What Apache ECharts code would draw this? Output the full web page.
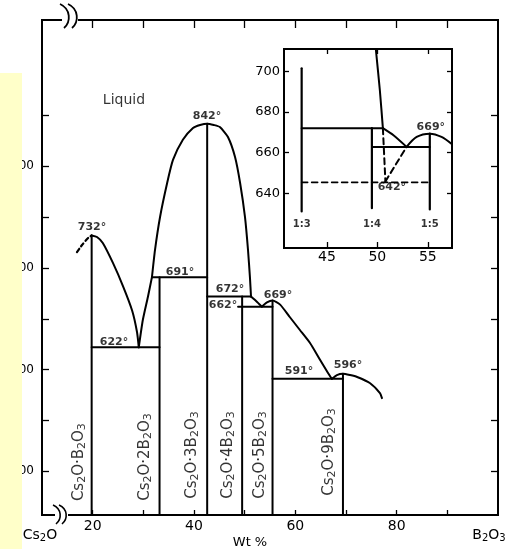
<!DOCTYPE html>
<html><head><meta charset="utf-8">
<script src="https://cdn.jsdelivr.net/npm/echarts@6/dist/echarts.min.js"></script>
<style>html,body{margin:0;padding:0;background:#fff}#c{width:514px;height:549px}</style>
</head><body><div id="c"></div>
<script>
// ---------- main diagram axes ----------
const xTicks = [20, 30, 40, 50, 60, 70, 80, 90];
const xTickLabels = [20, 40, 60, 80];
const yTicks = [500, 550, 600, 650, 700, 750, 800, 850];
const yTickLabels = [500, 600, 700, 800];

// ---------- compounds (wt% B2O3, top temperature) ----------
const compoundMult = ['', '2', '3', '4', '5', '9'];
const compoundW = [19.8, 33.2, 42.6, 49.5, 55.5, 69.4];
const compoundTop = [732, 691, 842, 672, 668, 596];
const compoundLabelW = [17.3, 30.3, 39.6, 46.7, 53.0, 66.6];
const compoundLabelT = [509, 514, 516, 516, 516, 519];

// ---------- invariant horizontals ----------
const horizT = [622, 691, 672, 662, 591];
const horizFrom = [19.8, 31.7, 42.6, 48.7, 55.5];
const horizTo = [33.2, 42.6, 51.25, 55.5, 69.4];

// ---------- liquidus curves ----------
const liqDashed = [[16.9, 715.7], [17.9, 722.6], [19.1, 729.5], [19.8, 732]];
const liq732 = [[19.8, 732], [20.85, 730.5], [22.0, 724.6], [24.0, 705], [26.0, 682], [27.8, 658], [28.75, 637], [29.1, 622]];
const liq622 = [[29.1, 622], [29.9, 648.8], [30.9, 671.5], [31.7, 691]];
const liqDome = [[31.7, 691], [32.3, 717.7], [33.3, 750.2], [34.7, 783.6], [35.85, 806.3], [37.8, 826.1], [39.8, 837.7], [41.2, 840.7], [42.6, 842],
  [43.9, 840.7], [45.1, 838.7], [46.7, 828.9], [48.1, 809.2], [49.1, 783.6], [50.06, 750.2], [50.66, 717.7], [51.05, 690], [51.25, 672]];
const liq672 = [[51.25, 672], [52.3, 667.3], [53.4, 662]];
const liq669 = [[53.4, 662], [54.4, 666.2], [55.5, 668], [57.0, 664], [58.9, 651.8], [60.9, 639], [62.9, 626.2], [64.9, 609.5], [66.45, 596.7], [67.2, 591]];
const liq596 = [[67.2, 591], [68.2, 594.7], [69.4, 596], [70.8, 594.7], [72.2, 592.8], [74.7, 586.9], [76.7, 577], [77.1, 572]];

// ---------- temperature labels ----------
const tempText = ['842°', '732°', '691°', '622°', '672°', '662°', '669°', '591°', '596°'];
const tempW = [42.56, 19.87, 37.23, 24.21, 47.1, 45.72, 56.58, 60.72, 70.39];
const tempT = [849.5, 740.3, 696.1, 627.2, 679.3, 663.6, 673.4, 598.7, 604.6];

// ---------- inset ----------
const insetXTicks = [45, 50, 55];
const insetYTicks = [640, 660, 680, 700];
const insetCompW = [42.5, 49.46, 55.2];
const insetCompTop = [701.5, 672, 669.3];
const insetCompBottom = [631, 632.6, 632];
const insetCompText = ['1:3', '1:4', '1:5'];
const insetSteep = [[49.85, 711], [50.25, 690.7], [50.55, 672]];
const insetDown = [[50.55, 672], [51.6, 668.5], [52.9, 662.8]];
const insetHump = [[52.9, 662.8], [53.9, 667.7], [55.2, 669.3], [56.36, 667.7], [57.4, 664.1]];
const insetH672 = [[42.5, 672], [50.55, 672]];
const insetH663 = [[49.46, 662.8], [55.2, 662.8]];
const insetDashV = [[50.55, 672], [50.8, 645.8]];
const insetDashD = [[50.8, 645.8], [52.9, 662.8]];
const insetDashH = [[42.5, 645.3], [55.2, 645.3]];
const insetTempText = ['669°', '642°'];
const insetTempW = [55.3, 51.44];
const insetTempT = [672.5, 643];

const FONT = 'DejaVu Sans';
const BLACK = '#000';

function line(data, opts) {
  opts = opts || {};
  return {
    type: 'line', data: data, xAxisIndex: opts.inset ? 2 : 0, yAxisIndex: opts.inset ? 2 : 0,
    showSymbol: false, symbol: 'none', smooth: opts.smooth || false, silent: true,
    lineStyle: { color: BLACK, width: opts.width || 2, type: opts.dash || 'solid', cap: 'round', join: 'round' },
    z: 3
  };
}

const series = [];
// compound verticals
compoundW.forEach((w, i) => series.push(line([[w, 457], [w, compoundTop[i]]], { width: 2 })));
// horizontals
horizT.forEach((t, i) => series.push(line([[horizFrom[i], t], [horizTo[i], t]], { width: 2 })));
// liquidus
series.push(line(liqDashed, { smooth: 0.2, dash: [4, 3], width: 2.2 }));
[liq732, liq622, liqDome, liq672, liq669, liq596].forEach(d => series.push(line(d, { smooth: 0.2, width: 2 })));

// compound labels
const richSub = {
  a: { fontFamily: FONT, fontSize: 15, color: BLACK },
  s: { fontFamily: FONT, fontSize: 11, color: BLACK, padding: [7, 0, 0, 0] }
};
series.push({
  type: 'scatter', xAxisIndex: 0, yAxisIndex: 0, silent: true, symbolSize: 0,
  itemStyle: { color: 'transparent' },
  data: compoundLabelW.map((w, i) => [w, compoundLabelT[i]]),
  label: {
    show: true, position: 'inside', rotate: 90,
    formatter: p => '{a|Cs}{s|2}{a|O·' + compoundMult[p.dataIndex] + 'B}{s|2}{a|O}{s|3}',
    rich: richSub
  }, z: 4
});
// temperature labels
series.push({
  type: 'scatter', xAxisIndex: 0, yAxisIndex: 0, silent: true, symbolSize: 0,
  itemStyle: { color: 'transparent' },
  data: tempW.map((w, i) => [w, tempT[i]]),
  label: { show: true, position: 'inside', formatter: p => tempText[p.dataIndex], fontFamily: FONT, fontSize: 11, fontWeight: 'bold', color: BLACK },
  z: 4
});
// Liquid label
series.push({
  type: 'scatter', xAxisIndex: 0, yAxisIndex: 0, silent: true, symbolSize: 0,
  itemStyle: { color: 'transparent' },
  data: [[26.18, 865.3]],
  label: { show: true, position: 'inside', formatter: 'Liquid', fontFamily: FONT, fontSize: 14, color: BLACK },
  z: 4
});

// inset series
insetCompW.forEach((w, i) => series.push(line([[w, insetCompBottom[i]], [w, insetCompTop[i]]], { inset: true, width: 2.2 })));
series.push(line(insetH672, { inset: true }));
series.push(line(insetH663, { inset: true }));
series.push(line(insetSteep, { inset: true, smooth: 0.2 }));
series.push(line(insetDown, { inset: true, smooth: 0.2 }));
series.push(line(insetHump, { inset: true, smooth: 0.3 }));
series.push(line(insetDashV, { inset: true, dash: [6, 4] }));
series.push(line(insetDashD, { inset: true, dash: [6, 4] }));
series.push(line(insetDashH, { inset: true, dash: [6, 4], width: 1.6 }));
series.push({
  type: 'scatter', xAxisIndex: 2, yAxisIndex: 2, silent: true, symbolSize: 0,
  itemStyle: { color: 'transparent' },
  data: insetTempW.map((w, i) => [w, insetTempT[i]]),
  label: { show: true, position: 'inside', formatter: p => insetTempText[p.dataIndex], fontFamily: FONT, fontSize: 11, fontWeight: 'bold', color: BLACK },
  z: 4
});
series.push({
  type: 'scatter', xAxisIndex: 2, yAxisIndex: 2, silent: true, symbolSize: 0,
  itemStyle: { color: 'transparent' },
  data: insetCompW.map(w => [w, 624.8]),
  label: { show: true, position: 'inside', formatter: p => insetCompText[p.dataIndex], fontFamily: FONT, fontSize: 10, fontWeight: 'bold', color: BLACK },
  z: 4
});

function tick(vals, len) { return { show: true, inside: true, length: len, customValues: vals, lineStyle: { color: BLACK, width: 1.3 } }; }
function noLabel() { return { show: false }; }

const option = {
  animation: false,
  backgroundColor: '#fff',
  grid: [
    { left: 42, top: 20, width: 456, height: 495, show: true, borderColor: BLACK, borderWidth: 2, backgroundColor: 'transparent' },
    { left: 284, top: 49, width: 168, height: 199, show: true, borderColor: BLACK, borderWidth: 2, backgroundColor: '#fff' }
  ],
  xAxis: [
    { gridIndex: 0, type: 'value', min: 10, max: 100, axisLine: { show: false }, splitLine: { show: false },
      axisTick: tick(xTicks, 5),
      axisLabel: { customValues: xTickLabels, fontFamily: FONT, fontSize: 14, color: BLACK, margin: 4 } },
    { gridIndex: 0, type: 'value', position: 'top', min: 10, max: 100, axisLine: { show: false }, splitLine: { show: false },
      axisTick: tick(xTicks, 8), axisLabel: noLabel() },
    { gridIndex: 1, type: 'value', min: 40.75, max: 57.4, axisLine: { show: false }, splitLine: { show: false },
      axisTick: tick(insetXTicks, 6),
      axisLabel: { customValues: insetXTicks, fontFamily: FONT, fontSize: 14, color: BLACK, margin: 2 } },
    { gridIndex: 1, type: 'value', position: 'top', min: 40.75, max: 57.4, axisLine: { show: false }, splitLine: { show: false },
      axisTick: tick(insetXTicks, 5), axisLabel: noLabel() }
  ],
  yAxis: [
    { gridIndex: 0, type: 'value', min: 457, max: 944, axisLine: { show: false }, splitLine: { show: false },
      axisTick: tick(yTicks, 7),
      axisLabel: { customValues: yTickLabels, fontFamily: FONT, fontSize: 12, color: BLACK, margin: 8 } },
    { gridIndex: 0, type: 'value', position: 'right', min: 457, max: 944, axisLine: { show: false }, splitLine: { show: false },
      axisTick: tick(yTicks, 7), axisLabel: noLabel() },
    { gridIndex: 1, type: 'value', min: 613, max: 711, axisLine: { show: false }, splitLine: { show: false },
      axisTick: tick(insetYTicks, 5),
      axisLabel: { customValues: insetYTicks, fontFamily: FONT, fontSize: 13, color: BLACK, margin: 4 } },
    { gridIndex: 1, type: 'value', position: 'right', min: 613, max: 711, axisLine: { show: false }, splitLine: { show: false },
      axisTick: tick(insetYTicks, 5), axisLabel: noLabel() }
  ],
  series: series,
  graphic: [
    // axis break marks
    { type: 'rect', shape: { x: 62, y: 18, width: 16, height: 4 }, style: { fill: '#fff' }, z: 50 },
    { type: 'bezierCurve', shape: { x1: 60, y1: 4, cpx1: 71, cpy1: 9, cpx2: 71, cpy2: 22, x2: 64, y2: 28 }, style: { stroke: BLACK, lineWidth: 1.8, fill: null }, z: 51 },
    { type: 'bezierCurve', shape: { x1: 68, y1: 4, cpx1: 79, cpy1: 9, cpx2: 79, cpy2: 22, x2: 72, y2: 28 }, style: { stroke: BLACK, lineWidth: 1.8, fill: null }, z: 51 },
    { type: 'rect', shape: { x: 55, y: 513, width: 13, height: 4 }, style: { fill: '#fff' }, z: 50 },
    { type: 'bezierCurve', shape: { x1: 53, y1: 505, cpx1: 62, cpy1: 509, cpx2: 62, cpy2: 519, x2: 56, y2: 524 }, style: { stroke: BLACK, lineWidth: 1.6, fill: null }, z: 51 },
    { type: 'bezierCurve', shape: { x1: 59, y1: 505, cpx1: 68, cpy1: 509, cpx2: 68, cpy2: 519, x2: 62, y2: 524 }, style: { stroke: BLACK, lineWidth: 1.6, fill: null }, z: 51 },
    // end-member and axis titles
    { type: 'text', x: 40, y: 535, style: { text: '{a|Cs}{s|2}{a|O}', rich: { a: { fontFamily: FONT, fontSize: 14, color: BLACK }, s: { fontFamily: FONT, fontSize: 10, color: BLACK, padding: [6, 0, 0, 0] } }, align: 'center', verticalAlign: 'middle' }, z: 60 },
    { type: 'text', x: 489, y: 535, style: { text: '{a|B}{s|2}{a|O}{s|3}', rich: { a: { fontFamily: FONT, fontSize: 14, color: BLACK }, s: { fontFamily: FONT, fontSize: 10, color: BLACK, padding: [6, 0, 0, 0] } }, align: 'center', verticalAlign: 'middle' }, z: 60 },
    { type: 'text', x: 250, y: 543, style: { text: 'Wt %', fontFamily: FONT, fontSize: 13, fill: BLACK, align: 'center', verticalAlign: 'middle' }, z: 60 },
    // pale yellow strip of the scan
    { type: 'rect', shape: { x: 0, y: 73, width: 22, height: 476 }, style: { fill: '#FFFFC9' }, z: 100 }
  ]
};

const chart = echarts.init(document.getElementById('c'), null, { renderer: 'canvas' });
chart.setOption(option);
</script>
</body></html>
